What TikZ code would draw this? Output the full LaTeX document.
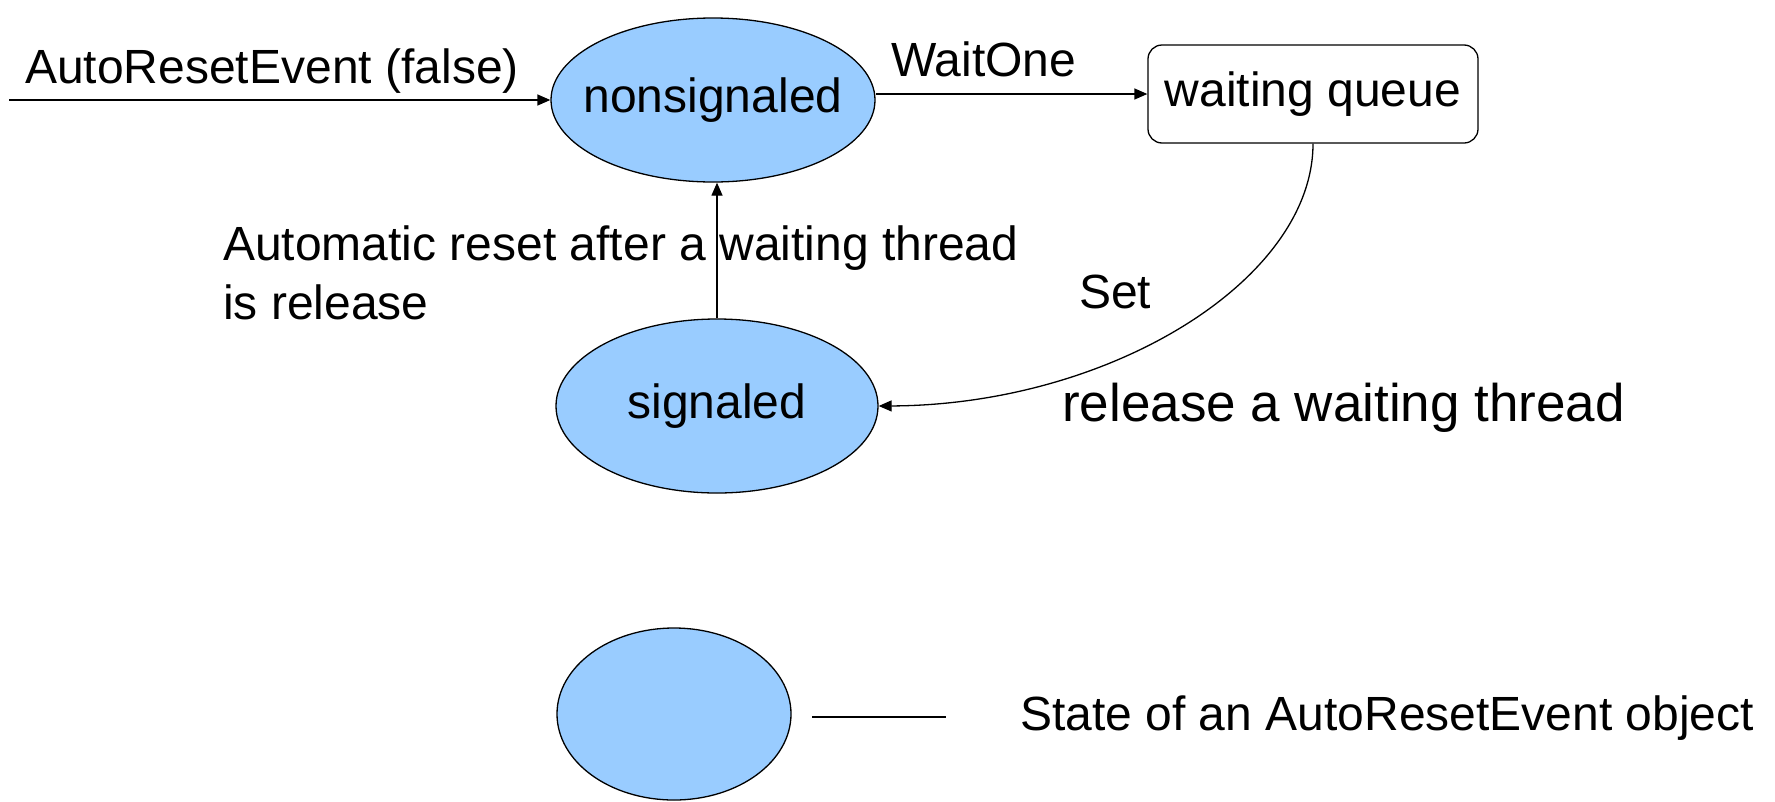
\documentclass[tikz,border=0pt]{standalone}
\usepackage{fontspec}
\setmainfont{Liberation Sans}
\usetikzlibrary{shapes.geometric,arrows.meta}
\definecolor{stateblue}{RGB}{153,204,255}
\tikzset{
  state/.style={ellipse, draw=black, line width=1.3pt, fill=stateblue, inner xsep=-30pt, inner ysep=0pt,
    font=\fontsize{48}{58}\selectfont},
  queuebox/.style={rectangle, rounded corners=14pt, draw=black, line width=1.3pt, fill=white,
    inner sep=0pt, minimum width=330pt, minimum height=98pt, font=\fontsize{48}{58}\selectfont},
  lbl/.style={inner sep=0pt, font=\fontsize{48}{58}\selectfont},
  biglbl/.style={inner sep=0pt, font=\fontsize{53}{64}\selectfont},
  conn/.style={line width=1.3pt, -{Triangle[length=13pt,width=11pt]}},
  plain/.style={line width=1.3pt}
}
\begin{document}
\begin{tikzpicture}[x=1pt,y=-1pt]
\useasboundingbox (0,0) rectangle (1775,801);
% states
\node[state, minimum width=324pt, minimum height=164pt] (ns) at (713,100) {nonsignaled};
\node[state, minimum width=322pt, minimum height=174pt] (sig) at (717,406) {signaled};
\node[queuebox] (wq) at (1313,94) {waiting queue};
% legend
\node[state, minimum width=234pt, minimum height=172pt] (leg) at (674,714) {};
\coordinate (lega) at (812,717);
\coordinate (legb) at (946,717);
\draw[plain] (lega) -- (legb);
\node[lbl, anchor=base west] (legtxt) at (1020,730) {State of an AutoResetEvent object};
% initial arrow
\coordinate (start) at (9,100);
\draw[conn] (start) -- (ns.west);
\node[lbl, anchor=base west] (init) at (25,83) {AutoResetEvent (false)};
% WaitOne
\draw[conn] (ns.east |- wq.west) -- (wq.west);
\node[lbl, anchor=base west] (wait) at (891,76) {WaitOne};
% automatic reset
\draw[conn] (sig.north) -- (sig.north |- ns.south);
\node[lbl, anchor=base west] (auto1) at (223,260) {Automatic reset after a waiting thread};
\node[lbl, anchor=base west] (auto2) at (223,319) {is release};
% Set
\draw[conn] (wq.south) .. controls (1313,280) and (1110,405) .. (sig.east);
\node[lbl, anchor=base west] (set) at (1079,308) {Set};
\node[biglbl, anchor=base west] (rel) at (1062,421) {release a waiting thread};
\end{tikzpicture}
\end{document}
